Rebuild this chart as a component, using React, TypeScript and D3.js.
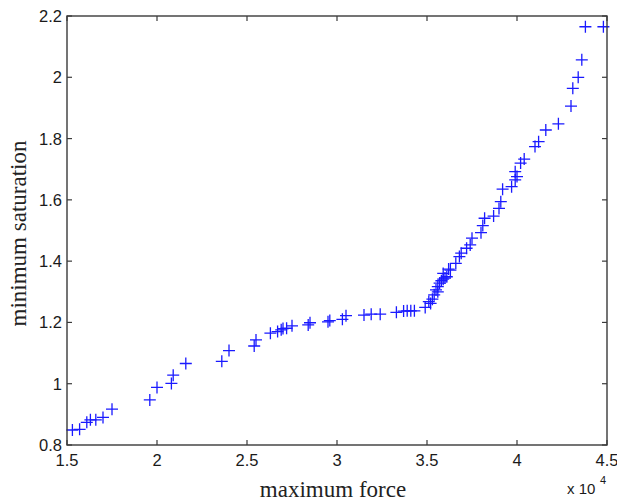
import React from 'react';
import * as d3 from 'd3';

// maximum force (x 10^4) and minimum saturation
const forceValues = [
  1.53, 1.57, 1.61, 1.63, 1.66, 1.70, 1.75, 1.96, 2.00, 2.08,
  2.09, 2.16, 2.36, 2.40, 2.54, 2.55, 2.63, 2.67, 2.69, 2.70,
  2.72, 2.75, 2.84, 2.85, 2.95, 2.96, 3.03, 3.05, 3.15, 3.19,
  3.24, 3.33, 3.37, 3.39, 3.41, 3.43, 3.49, 3.51, 3.52, 3.53,
  3.54, 3.55, 3.56, 3.56, 3.57, 3.58, 3.59, 3.59, 3.60, 3.61,
  3.62, 3.63, 3.66, 3.68, 3.69, 3.72, 3.74, 3.75, 3.80, 3.81,
  3.82, 3.87, 3.90, 3.91, 3.92, 3.97, 3.99, 4.00, 3.99, 4.02,
  4.04, 4.10, 4.12, 4.16, 4.23, 4.30, 4.31, 4.34, 4.36, 4.38,
  4.48,
];
const saturationValues = [
  0.849, 0.851, 0.874, 0.882, 0.882, 0.890, 0.917, 0.947, 0.988, 1.001,
  1.028, 1.066, 1.073, 1.108, 1.123, 1.143, 1.165, 1.170, 1.176, 1.180,
  1.181, 1.189, 1.192, 1.199, 1.202, 1.206, 1.210, 1.222, 1.224, 1.227,
  1.227, 1.233, 1.237, 1.238, 1.238, 1.238, 1.249, 1.268, 1.262, 1.276,
  1.290, 1.306, 1.300, 1.317, 1.328, 1.336, 1.341, 1.360, 1.345, 1.349,
  1.374, 1.371, 1.393, 1.415, 1.426, 1.442, 1.453, 1.475, 1.493, 1.516,
  1.540, 1.547, 1.572, 1.594, 1.635, 1.643, 1.665, 1.676, 1.692, 1.720,
  1.733, 1.774, 1.790, 1.828, 1.848, 1.906, 1.964, 2.000, 2.057, 2.165,
  2.165,
];
const xTicks = [1.5, 2, 2.5, 3, 3.5, 4, 4.5];
const yTicks = [0.8, 1, 1.2, 1.4, 1.6, 1.8, 2, 2.2];

const W = 617;
const H = 503;
const left = 67, right = 607, top = 16, bottom = 445;

const xScale = d3.scaleLinear().domain([1.5, 4.5]).range([left, right]);
const yScale = d3.scaleLinear().domain([0.8, 2.2]).range([bottom, top]);

const tickFont = '"Liberation Sans", Arial, sans-serif';
const titleFont = '"Liberation Serif", "Times New Roman", serif';
const axisColor = '#3a3a3a';

export default function App() {
  const pts = forceValues.map((f, i) => [f, saturationValues[i]]);
  const r = 6;
  return (
    <svg width={W} height={H} style={{ position: 'absolute', left: 0, top: 0 }}>
      <rect x={0} y={0} width={W} height={H} fill="#fff" />
      {pts.map((p, i) => {
        const cx = xScale(p[0]);
        const cy = yScale(p[1]);
        return (
          <path key={i}
            d={`M${cx - r},${cy}H${cx + r}M${cx},${cy - r}V${cy + r}`}
            stroke="#1a1aff" strokeWidth={1.3} fill="none" />
        );
      })}
      <rect x={left} y={top} width={right - left} height={bottom - top}
        fill="none" stroke={axisColor} strokeWidth={1.4} />
      {xTicks.map((t) => (
        <g key={'x' + t}>
          <line x1={xScale(t)} x2={xScale(t)} y1={bottom} y2={bottom - 5} stroke={axisColor} strokeWidth={1.2} />
          <line x1={xScale(t)} x2={xScale(t)} y1={top} y2={top + 5} stroke={axisColor} strokeWidth={1.2} />
          <text x={xScale(t)} y={466} textAnchor="middle" fontFamily={tickFont} fontSize={16.5} fill="#1a1a1a">{t}</text>
        </g>
      ))}
      {yTicks.map((t) => (
        <g key={'y' + t}>
          <line x1={left} x2={left + 5} y1={yScale(t)} y2={yScale(t)} stroke={axisColor} strokeWidth={1.2} />
          <line x1={right} x2={right - 5} y1={yScale(t)} y2={yScale(t)} stroke={axisColor} strokeWidth={1.2} />
          <text x={62} y={yScale(t)} dy="0.36em" textAnchor="end" fontFamily={tickFont} fontSize={16.5} fill="#1a1a1a">{t}</text>
        </g>
      ))}
      <text x={(left + right) / 2 - 4} y={497} textAnchor="middle" fontFamily={titleFont} fontSize={23} fill="#222">maximum force</text>
      <text transform={`translate(26,${(top + bottom) / 2 + 3}) rotate(-90)`} textAnchor="middle"
        fontFamily={titleFont} fontSize={23} fill="#222">minimum saturation</text>
      <text x={567} y={494} fontFamily={tickFont} fontSize={15} fill="#1a1a1a">x 10</text>
      <text x={600} y={484} fontFamily={tickFont} fontSize={11} fill="#1a1a1a">4</text>
    </svg>
  );
}
